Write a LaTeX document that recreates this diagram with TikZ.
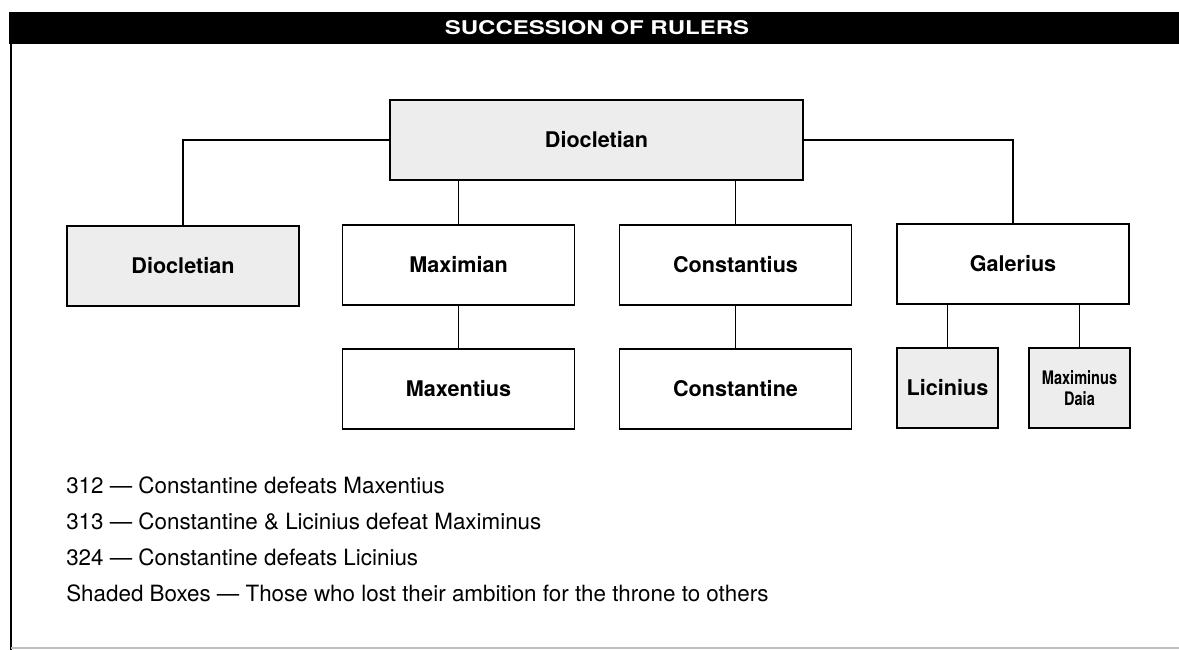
\documentclass[tikz,border=0pt]{standalone}
\usepackage{fontspec}
\setmainfont{TeX Gyre Heros}
\newfontfamily\widefont[FakeStretch=1.27]{TeX Gyre Heros}
\newfontfamily\narrowfont[FakeStretch=0.78]{TeX Gyre Heros}
\usepackage{tikz}
\usetikzlibrary{positioning}
\definecolor{shadegray}{HTML}{EDEDED}
\definecolor{framegray}{HTML}{BDBDBD}

\begin{document}
\begin{tikzpicture}[
      x=0.75pt,y=-0.75pt,
      font=\fontsize{16.8}{20}\selectfont,
      ruler/.style={draw,line width=1.4pt,fill=white,align=center,
        font=\fontsize{16.2}{19}\selectfont\bfseries,
        minimum width=174pt,minimum height=60.5pt,inner sep=0pt},
      lost/.style={ruler,fill=shadegray},
      small/.style={minimum width=75.5pt},
      link/.style={line width=1.1pt}
    ]
    \useasboundingbox (0,0) rectangle (1179,650);

    % frame and title bar
    \fill (9,12) rectangle (1179,44);
    \draw[line width=1.4pt] (11,44) -- (11,650);
    \draw[line width=0.8pt,framegray] (11,648) -- (1179,648);
    \node[text=white,font=\widefont\bfseries\fontsize{14.2}{17}\selectfont] (title) at (597,28) {SUCCESSION OF RULERS};

    % rulers
    \node[lost,minimum width=310pt,minimum height=60pt] (top) at (596.5,140) {Diocletian};
    \node[lost] (diocl) at (183,266) {Diocletian};
    \node[ruler] (maximian) at (458.5,265) {Maximian};
    \node[ruler] (constantius) at (735.5,265) {Constantius};
    \node[ruler] (galerius) at (1013,264) {Galerius};
    \node[ruler] (maxentius) at (458.5,389) {Maxentius};
    \node[ruler] (constantine) at (735.5,389) {Constantine};
    \node[lost,small] (licinius) at (947.5,388) {Licinius};
    \node[lost,small,font=\narrowfont\bfseries\fontsize{14}{16}\selectfont] (daia) at (1079.5,388) {Maximinus\\Daia};

    % lines of succession
    \draw[link] (top.west) -| (diocl.north);
    \draw[link] (top.east) -| (galerius.north);
    \draw[link] (top.south -| maximian.north) -- (maximian.north);
    \draw[link] (top.south -| constantius.north) -- (constantius.north);
    \draw[link] (maximian.south) -- (maxentius.north);
    \draw[link] (constantius.south) -- (constantine.north);
    \draw[link] (galerius.south -| licinius.north) -- (licinius.north);
    \draw[link] (galerius.south -| daia.north) -- (daia.north);

    % notes
    \foreach \i/\y/\txt in {1/485/312 — Constantine defeats Maxentius,
                            2/521/313 — Constantine \& Licinius defeat Maximinus,
                            3/557/324 — Constantine defeats Licinius,
                            4/593/Shaded Boxes — Those who lost their ambition for the throne to others}{
      \node[anchor=west,inner sep=0pt] (note\i) at (66,\y) {\txt};
    }
  \end{tikzpicture}
\end{document}
